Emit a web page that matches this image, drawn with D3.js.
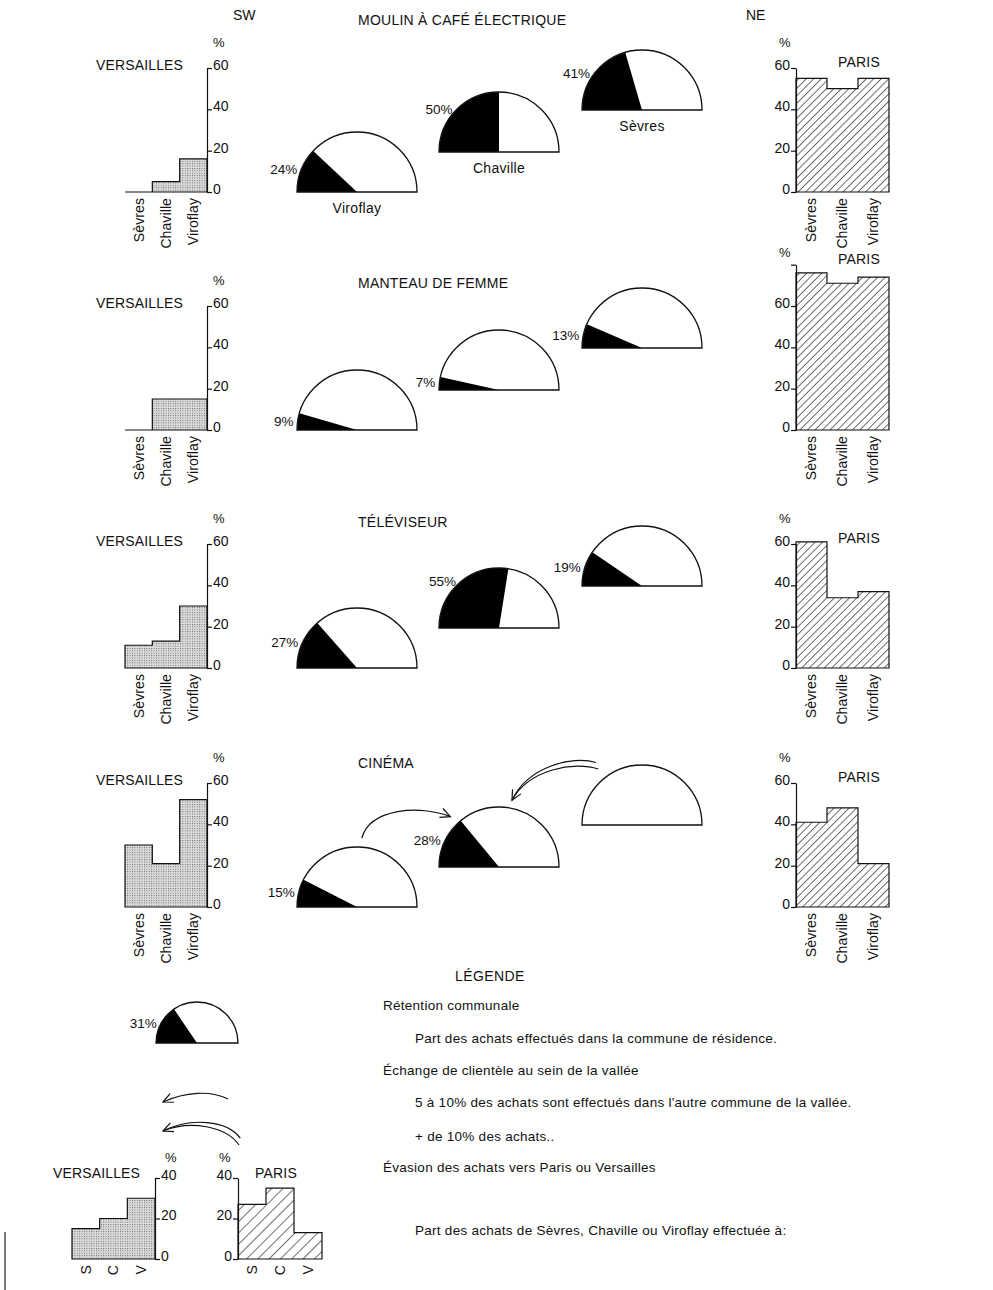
<!DOCTYPE html>
<html>
<head>
<meta charset="utf-8">
<script src="https://cdn.jsdelivr.net/npm/d3@7"></script>
<style>
body { margin: 0; background: #fff; }
text { font-family: "Liberation Sans", "DejaVu Sans", sans-serif; fill: #111; }
</style>
</head>
<body>
<svg id="chart" width="993" height="1290"></svg>
<script>
// DATA
const communes = ['Sèvres', 'Chaville', 'Viroflay']
const products = ['MOULIN À CAFÉ ÉLECTRIQUE', 'MANTEAU DE FEMME', 'TÉLÉVISEUR', 'CINÉMA']
// rétention communale (%) - ordre Sèvres, Chaville, Viroflay
const retention = [[41, 50, 24], [13, 7, 9], [19, 55, 27], [0, 28, 15]]
// part des achats effectuée à Versailles / à Paris
const toVersailles = [[0, 5, 16], [0, 15, 15], [11, 13, 30], [30, 21, 52]]
const toParis = [[55, 50, 55], [76, 71, 74], [61, 34, 37], [41, 48, 21]]
const parisMax = [60, 80, 60, 60]
const yTicks = [0, 20, 40, 60, 80]
// échanges dans la vallée : level 1 = 5 à 10%, level 2 = + de 10%
const exchanges = [
    {row: 3, from: 'Viroflay', to: 'Chaville', level: 1},
    {row: 3, from: 'Sèvres', to: 'Chaville', level: 2}
]
const legendRetention = 31
const legendVersailles = [15, 20, 30]
const legendParis = [27, 35, 13]
const legendTicks = [0, 20, 40]
const legendInitials = ['S', 'C', 'V']
const legendLines = [
    {text: 'Rétention communale', indent: 0},
    {text: 'Part des achats effectués dans la commune de résidence.', indent: 1},
    {text: 'Échange de clientèle au sein de la vallée', indent: 0},
    {text: '5 à 10% des achats sont effectués dans l\'autre commune de la vallée.', indent: 1},
    {text: '+ de 10% des achats..', indent: 1},
    {text: 'Évasion des achats vers Paris ou Versailles', indent: 0},
    {text: 'Part des achats de Sèvres, Chaville ou Viroflay effectuée à:', indent: 1}
]

// LAYOUT
const rowOffset = [0, 238, 476, 715]
const titleY = [25, 288, 527, 768]
const zeroY = 192
const px60 = 124
const semiX = {'Sèvres': 642, 'Chaville': 499, 'Viroflay': 357}
const semiY = {'Sèvres': 110, 'Chaville': 152, 'Viroflay': 192}
const R = 60
const legendLineY = [1010, 1043, 1075, 1107, 1141, 1172, 1235]

const svg = d3.select('#chart')
const defs = svg.append('defs')

const dots = defs.append('pattern').attr('id', 'dots').attr('patternUnits', 'userSpaceOnUse')
    .attr('width', 2.4).attr('height', 2.4)
dots.append('rect').attr('width', 2.4).attr('height', 2.4).attr('fill', '#dedede')
dots.append('rect').attr('width', 1).attr('height', 1).attr('fill', '#666')

function hatch(id, w){
    const p = defs.append('pattern').attr('id', id).attr('patternUnits', 'userSpaceOnUse')
        .attr('width', w).attr('height', w).attr('patternTransform', 'rotate(45)')
    p.append('rect').attr('width', w).attr('height', w).attr('fill', '#fff')
    p.append('line').attr('x1', 0).attr('y1', 0).attr('x2', 0).attr('y2', w)
        .attr('stroke', '#111').attr('stroke-width', 1.2)
}
hatch('hatch', 5.3)
hatch('hatchWide', 8)

const angle = d3.scaleLinear().domain([0, 100]).range([-Math.PI / 2, Math.PI / 2])

function semicircle(cx, by, r, value, pct, name){
    const g = svg.append('g').attr('transform', `translate(${cx},${by})`)
    const arc = d3.arc().innerRadius(0).outerRadius(r)
    g.append('path').attr('d', arc({startAngle: -Math.PI / 2, endAngle: Math.PI / 2}))
        .attr('fill', '#fff')
    if (value > 0){
        g.append('path').attr('d', arc({startAngle: -Math.PI / 2, endAngle: angle(value)}))
            .attr('fill', '#000')
    }
    g.append('path').attr('d', arc({startAngle: -Math.PI / 2, endAngle: Math.PI / 2}))
        .attr('fill', 'none').attr('stroke', '#111').attr('stroke-width', 1.3)
    if (pct){
        const mid = angle(value / 2)
        g.append('text').text(`${value}%`).attr('text-anchor', 'end').attr('font-size', 13.5)
            .attr('x', r * Math.sin(mid) - 4).attr('y', -r * Math.cos(mid) + 4)
    }
    if (name){
        g.append('text').text(name).attr('text-anchor', 'middle').attr('font-size', 14)
            .attr('letter-spacing', 0.3).attr('y', 21)
    }
}

function stepOutline(x, y, vals){
    const pts = [[x.range()[0], y(0)]]
    vals.forEach((v, i) => {
        const x0 = x(communes[i])
        pts.push([x0, y(v)], [x0 + x.bandwidth(), y(v)])
    })
    pts.push([x.range()[1], y(0)])
    return d3.line()(pts) + 'Z'
}

function barChart(opts){
    const {x, y, vals, fill, side, ticks, labels} = opts
    const g = svg.append('g')
    g.append('path').attr('d', stepOutline(x, y, vals)).attr('fill', fill)
        .attr('stroke', '#111').attr('stroke-width', 1.2)
    const axisX = side === 'right' ? x.range()[1] : x.range()[0]
    const axis = (side === 'right' ? d3.axisRight(y) : d3.axisLeft(y))
        .tickValues(ticks).tickSize(5).tickSizeOuter(0).tickPadding(1)
        .tickFormat(d => d === 80 ? '' : d)
    const ag = g.append('g').attr('transform', `translate(${axisX},0)`).call(axis)
    ag.attr('font-family', null).attr('font-size', 14)
    ag.selectAll('line, path').attr('stroke', '#111').attr('stroke-width', 1.2)
    ag.selectAll('text').attr('dy', '0.1em').attr('fill', '#111')
    // catégories en travers
    communes.forEach((c, i) => {
        const cx = x(c) + x.bandwidth() / 2
        const cy = y(0) + 6
        g.append('text').text(labels[i]).attr('font-size', 14)
            .attr('letter-spacing', 0.1)
            .attr('text-anchor', 'end').attr('dy', '0.35em')
            .attr('transform', `translate(${cx},${cy}) rotate(-90)`)
    })
    return g
}

// bord gauche de la planche
svg.append('line').attr('x1', 5).attr('x2', 5).attr('y1', 1232).attr('y2', 1290)
    .attr('stroke', '#222').attr('stroke-width', 1.2)

// ENTÊTES
svg.append('text').text('SW').attr('x', 233).attr('y', 20).attr('font-size', 14)
svg.append('text').text('NE').attr('x', 746).attr('y', 20).attr('font-size', 14)

products.forEach((p, row) => {
    const off = rowOffset[row]
    svg.append('text').text(p).attr('x', 358).attr('y', titleY[row])
        .attr('font-size', 14).attr('letter-spacing', 0.25)

    // Versailles
    const yv = d3.scaleLinear().domain([0, 60]).range([zeroY + off, zeroY + off - px60])
    const xv = d3.scaleBand().domain(communes).range([125, 207])
    barChart({x: xv, y: yv, vals: toVersailles[row], fill: 'url(#dots)', side: 'right',
        ticks: yTicks.filter(t => t <= 60), labels: communes})
    svg.append('text').text('VERSAILLES').attr('x', 96).attr('y', yv(60) + 2)
        .attr('font-size', 14).attr('letter-spacing', 0.15)
    svg.append('text').text('%').attr('x', 213).attr('y', yv(60) - 21).attr('font-size', 13)

    // Paris
    const top = parisMax[row]
    const yp = d3.scaleLinear().domain([0, top]).range([zeroY + off, zeroY + off - px60 * top / 60])
    const xp = d3.scaleBand().domain(communes).range([796, 889])
    barChart({x: xp, y: yp, vals: toParis[row], fill: 'url(#hatch)', side: 'left',
        ticks: yTicks.filter(t => t <= top), labels: communes})
    svg.append('text').text('PARIS').attr('x', 838).attr('y', yp(top) - 1)
        .attr('font-size', 14).attr('letter-spacing', 0.2)
    svg.append('text').text('%').attr('x', 779).attr('y', top > 60 ? yp(top) - 8 : yp(top) - 21)
        .attr('font-size', 13)

    // rétention
    communes.forEach((c, i) => {
        const v = retention[row][i]
        semicircle(semiX[c], semiY[c] + off, R, v, v > 0, row === 0 ? c : null)
    })
})

// FLÈCHES
const arrowAnchors = {
    'Viroflay>Chaville': {a0: 4, r0: 69, a1: -44, r1: 70, c1: [8, -30], c2: [-30, -12]},
    'Sèvres>Chaville': {a0: -38, r0: 71, a1: 11, r1: 68, c1: [-24, -8], c2: [17, -31]}
}

function polar(cx, cy, deg, r){
    const a = deg * Math.PI / 180
    return [cx + r * Math.sin(a), cy - r * Math.cos(a)]
}

function drawArrow(S, C1, C2, E, level){
    const g = svg.append('g').attr('fill', 'none').attr('stroke', '#111').attr('stroke-width', 1.2)
    const curve = (s, c1, c2) => `M${s}C${c1} ${c2} ${E}`
    g.append('path').attr('d', curve(S, C1, C2))
    if (level > 1){
        // seconde ligne : décalée côté intérieur, rejoint la pointe
        const dx = E[0] - S[0], dy = E[1] - S[1]
        const len = Math.hypot(dx, dy)
        const n = [-dy / len, dx / len]
        const sh = (p, k) => [p[0] + n[0] * k, p[1] + n[1] * k]
        g.append('path').attr('d', curve(sh(S, 7), sh(C1, 6), sh(C2, 3)))
    }
    const dir = Math.atan2(E[1] - C2[1], E[0] - C2[0])
    const hl = 11
    const h = [dir + Math.PI - 0.45, dir + Math.PI + 0.45].map(a => [E[0] + hl * Math.cos(a), E[1] + hl * Math.sin(a)])
    g.append('path').attr('d', `M${h[0]}L${E}L${h[1]}`)
}

exchanges.forEach(e => {
    const a = arrowAnchors[`${e.from}>${e.to}`]
    const off = rowOffset[e.row]
    const S = polar(semiX[e.from], semiY[e.from] + off, a.a0, a.r0)
    const E = polar(semiX[e.to], semiY[e.to] + off, a.a1, a.r1)
    drawArrow(S, [S[0] + a.c1[0], S[1] + a.c1[1]], [E[0] + a.c2[0], E[1] + a.c2[1]], E, e.level)
})

// LÉGENDE
svg.append('text').text('LÉGENDE').attr('x', 455).attr('y', 981)
    .attr('font-size', 14).attr('letter-spacing', 0.4)
legendLines.forEach((l, i) => {
    svg.append('text').text(l.text).attr('x', l.indent ? 415 : 383).attr('y', legendLineY[i])
        .attr('font-size', 13.5).attr('letter-spacing', 0.27)
})

semicircle(197, 1043, 41, legendRetention, true, null)
drawArrow([228, 1099], [210, 1090], [185, 1092], [163, 1102], 1)
drawArrow([239, 1145], [226, 1126], [190, 1120], [163, 1131], 2)

const ly = d3.scaleLinear().domain([0, 40]).range([1259, 1178])
const lxv = d3.scaleBand().domain(communes).range([72, 155])
barChart({x: lxv, y: ly, vals: legendVersailles, fill: 'url(#dots)', side: 'right',
    ticks: legendTicks, labels: legendInitials})
svg.append('text').text('VERSAILLES').attr('x', 53).attr('y', ly(40))
    .attr('font-size', 14).attr('letter-spacing', 0.15)
svg.append('text').text('%').attr('x', 165).attr('y', ly(40) - 16).attr('font-size', 13)

const lxp = d3.scaleBand().domain(communes).range([238, 322])
barChart({x: lxp, y: ly, vals: legendParis, fill: 'url(#hatchWide)', side: 'left',
    ticks: legendTicks, labels: legendInitials})
svg.append('text').text('PARIS').attr('x', 255).attr('y', ly(40))
    .attr('font-size', 14).attr('letter-spacing', 0.2)
svg.append('text').text('%').attr('x', 219).attr('y', ly(40) - 16).attr('font-size', 13)
</script>
</body>
</html>
